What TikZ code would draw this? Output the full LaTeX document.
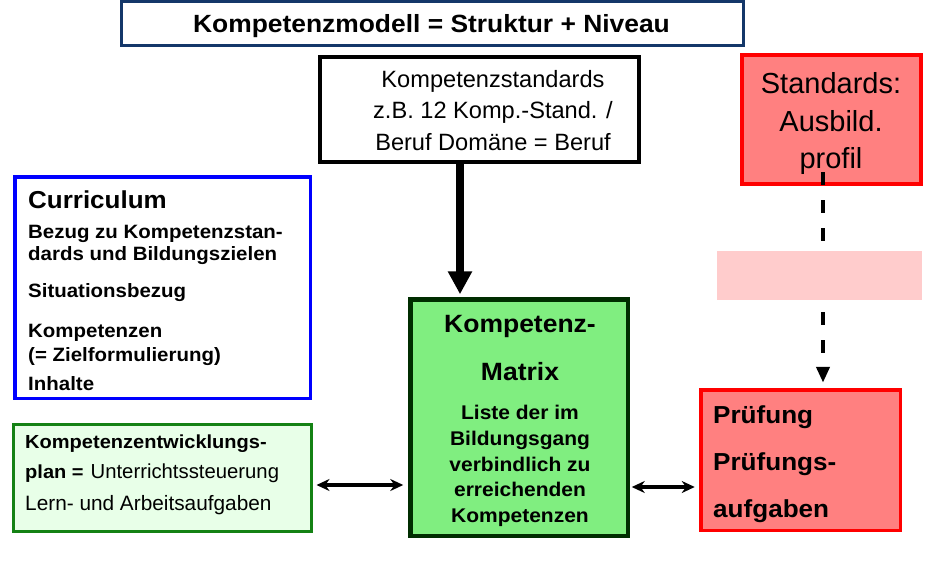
\documentclass[tikz,border=0pt]{standalone}
\usepackage{fontspec}
\setmainfont{Liberation Sans}
\newfontfamily\wb[FakeStretch=1.06]{Liberation Sans}
\usetikzlibrary{arrows.meta}
\definecolor{topblue}{RGB}{20,55,105}
\definecolor{curblue}{RGB}{0,0,255}
\definecolor{kepgreen}{RGB}{20,130,20}
\definecolor{kepfill}{RGB}{232,255,232}
\definecolor{matborder}{RGB}{0,45,0}
\definecolor{matfill}{RGB}{128,238,128}
\definecolor{redborder}{RGB}{255,0,0}
\definecolor{redfill}{RGB}{255,128,128}
\definecolor{pinkfill}{RGB}{255,204,204}
\tikzset{
  boxnode/.style={draw, inner sep=0pt, outer sep=0pt},
  tc/.style={inner sep=0pt, anchor=base},
  tl/.style={inner sep=0pt, anchor=base west},
  dblarrow/.style={line width=3.2pt, {Stealth[length=13pt,width=12pt]}-{Stealth[length=13pt,width=12pt]}},
}
\begin{document}
\begin{tikzpicture}[x=1pt,y=-1pt]
\useasboundingbox[fill=white] (0,0) rectangle (929,562);

% boxes
\node[boxnode, draw=topblue, line width=3pt, minimum width=622pt, minimum height=44pt] (top) at (432.5,23.5) {};
\node[boxnode, draw=black, line width=4pt, minimum width=319pt, minimum height=105pt] (kstd) at (479.5,109.5) {};
\node[boxnode, draw=redborder, fill=redfill, line width=4pt, minimum width=179pt, minimum height=129pt] (std) at (831.5,119.5) {};
\node[boxnode, draw=curblue, line width=3.5pt, minimum width=295.5pt, minimum height=221.5pt] (cur) at (162.5,287.5) {};
\node[boxnode, draw=kepgreen, fill=kepfill, line width=3pt, minimum width=298pt, minimum height=107pt] (kep) at (162.5,478) {};
\node[boxnode, draw=matborder, fill=matfill, line width=4.5pt, minimum width=217.5pt, minimum height=236.5pt] (mat) at (519,417.5) {};
\node[boxnode, draw=redborder, fill=redfill, line width=3.5pt, minimum width=199.5pt, minimum height=140.5pt] (prf) at (800.5,460) {};

% connectors
\coordinate (tx) at (460,0);
\draw[line width=8pt, -{Triangle[length=23pt,width=23pt]}, shorten >=5pt] (kstd.south -| tx) -- (mat.north -| tx);
\coordinate (ya) at (0,485);
\draw[dblarrow, shorten <=5pt, shorten >=7pt] (kep.east |- ya) -- (mat.west |- ya);
\coordinate (yb) at (0,487);
\draw[dblarrow, shorten <=4pt, shorten >=6pt] (mat.east |- yb) -- (prf.west |- yb);
\coordinate (dx) at (823,172);
\draw[line width=4pt, dash pattern=on 13pt off 15pt, -{Triangle[length=16pt,width=13pt]}, shorten >=7pt] (dx) -- (prf.north -| dx);

% pink rectangle
\node[boxnode, draw=none, fill=pinkfill, minimum width=205pt, minimum height=49pt] (pink) at (819.5,275.5) {};

% texts
\node[tc] (t1) at (431.5,32) {\wb\bfseries\fontsize{24.9}{28}\selectfont Kompetenzmodell = Struktur + Niveau};

\node[tc] (k1) at (493,87) {\fontsize{23.6}{28}\selectfont Kompetenzstandards};
\node[tc] (k2) at (493,118) {\fontsize{23.6}{28}\selectfont z.B. 12 Komp.-Stand. /};
\node[tc] (k3) at (493,150) {\fontsize{23.6}{28}\selectfont Beruf Domäne = Beruf};

\node[tc] (s1) at (831,93) {\fontsize{29}{34}\selectfont Standards:};
\node[tc] (s2) at (831,131) {\fontsize{29}{34}\selectfont Ausbild.};
\node[tc] (s3) at (831,168) {\fontsize{29}{34}\selectfont profil};

\node[tl] (c1) at (28,208) {\wb\bfseries\fontsize{24.5}{28}\selectfont Curriculum};
\node[tl] (c2) at (28,238) {\wb\bfseries\fontsize{19.3}{22}\selectfont Bezug zu Kompetenzstan-};
\node[tl] (c3) at (28,260) {\wb\bfseries\fontsize{19.3}{22}\selectfont dards und Bildungszielen};
\node[tl] (c4) at (28,297) {\wb\bfseries\fontsize{19.3}{22}\selectfont Situationsbezug};
\node[tl] (c5) at (28,337) {\wb\bfseries\fontsize{19.3}{22}\selectfont Kompetenzen};
\node[tl] (c6) at (28,361) {\wb\bfseries\fontsize{19.3}{22}\selectfont (= Zielformulierung)};
\node[tl] (c7) at (28,390) {\wb\bfseries\fontsize{19.3}{22}\selectfont Inhalte};

\node[tl] (p1) at (25,448) {\wb\bfseries\fontsize{18.9}{22}\selectfont Kompetenzentwicklungs-};
\node[tl] (p2) at (25,478) {{\wb\bfseries\fontsize{18.9}{22}\selectfont plan =}\hspace{7pt}{\fontsize{20.3}{24}\selectfont Unterrichtssteuerung}};
\node[tl] (p3) at (25,510) {\fontsize{20.8}{24}\selectfont Lern- und Arbeitsaufgaben};

\node[tc] (m1) at (520,332) {\wb\bfseries\fontsize{25}{28}\selectfont Kompetenz-};
\node[tc] (m2) at (520,380) {\wb\bfseries\fontsize{25}{28}\selectfont Matrix};
\node[tc] (m3) at (520,419) {\wb\bfseries\fontsize{19.8}{22}\selectfont Liste der im};
\node[tc] (m4) at (520,445) {\wb\bfseries\fontsize{19.8}{22}\selectfont Bildungsgang};
\node[tc] (m5) at (520,471) {\wb\bfseries\fontsize{19.8}{22}\selectfont verbindlich zu};
\node[tc] (m6) at (520,496) {\wb\bfseries\fontsize{19.8}{22}\selectfont erreichenden};
\node[tc] (m7) at (520,522) {\wb\bfseries\fontsize{19.8}{22}\selectfont Kompetenzen};

\node[tl] (r1) at (713,423) {\wb\bfseries\fontsize{24.6}{28}\selectfont Prüfung};
\node[tl] (r2) at (713,470) {\wb\bfseries\fontsize{24.6}{28}\selectfont Prüfungs-};
\node[tl] (r3) at (713,517) {\wb\bfseries\fontsize{24.6}{28}\selectfont aufgaben};
\end{tikzpicture}
\end{document}
